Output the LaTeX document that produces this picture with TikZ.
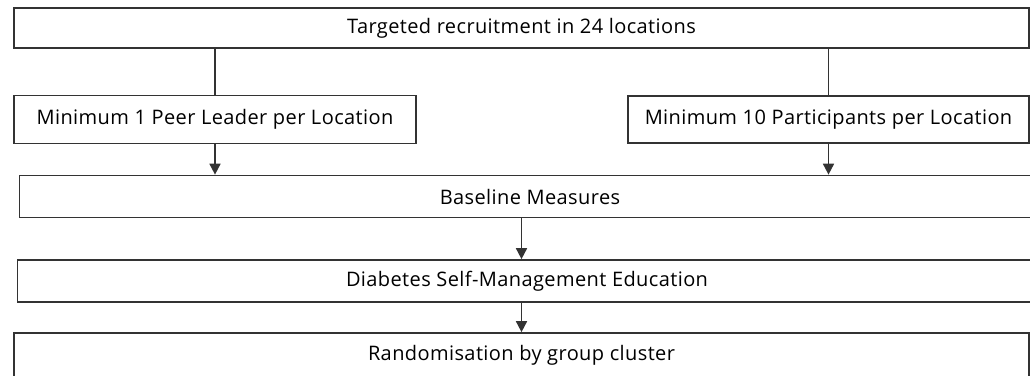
\documentclass[tikz,border=0pt]{standalone}
\usepackage{fontspec}
\setmainfont{Open Sans}[LetterSpace=2]
\usetikzlibrary{arrows.meta}
\begin{document}
\begin{tikzpicture}[x=1pt,y=-1pt,
  box/.style={draw=black!80,line width=1.7pt,fill=white,rectangle,inner sep=0pt,
    font=\fontsize{20}{22}\selectfont,text=black},
  link/.style={draw=black!80,line width=1.7pt},
  arr/.style={link,-{Triangle[length=11pt,width=11pt]}}]
\useasboundingbox (0,0) rectangle (1030,375);
\clip (0,0) rectangle (1030,375);
\node[box,minimum width=1015pt,minimum height=40pt] (top) at (521.5,28) {Targeted recruitment in 24 locations};
\node[box,minimum width=402pt,minimum height=48pt] (peer) at (215,119.5) {Minimum 1 Peer Leader per Location};
\node[box,minimum width=401pt,minimum height=47pt] (part) at (828.5,119.5) {Minimum 10 Participants per Location};
\node[box,minimum width=1021pt,minimum height=42pt] (base) at (530,196.5) {Baseline Measures};
\node[box,minimum width=1019pt,minimum height=42pt] (dsme) at (527,281) {Diabetes Self-Management Education};
\node[box,minimum width=1015pt,minimum height=44pt] (rand) at (521.5,355) {Randomisation by group cluster};
\draw[link] (top.south -| peer.north) -- (peer.north);
\draw[link] (top.south -| part.north) -- (part.north);
\draw[arr] (peer.south) -- (peer.south |- base.north);
\draw[arr] (part.south) -- (part.south |- base.north);
\draw[arr] (base.south -| top.south) -- (dsme.north -| top.south);
\draw[arr] (dsme.south -| top.south) -- (rand.north -| top.south);
\end{tikzpicture}
\end{document}
